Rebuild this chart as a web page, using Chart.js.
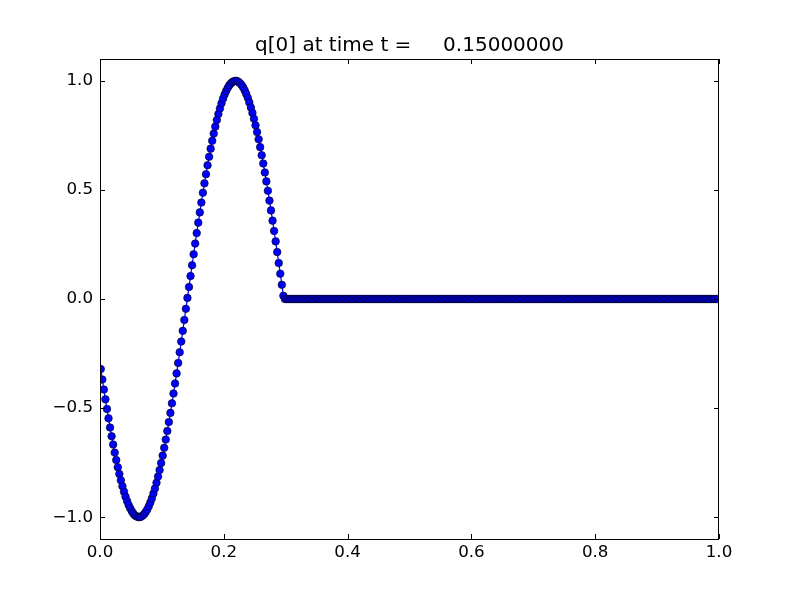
<!DOCTYPE html>
<html>
<head>
<meta charset="utf-8">
<script src="https://cdn.jsdelivr.net/npm/chart.js@4/dist/chart.umd.min.js"></script>
<style>
  html, body { margin: 0; padding: 0; background: #fff; }
  canvas { display: block; }
</style>
</head>
<body>
<canvas id="qPlot" width="800" height="600"></canvas>
<script>
const TITLE = 'q[0] at time t =     0.15000000';
const X_TICKS = [0, 0.2, 0.4, 0.6, 0.8, 1.0];
const Y_TICKS = [-1.0, -0.5, 0.0, 0.5, 1.0];

// solution sampled at the centres of 400 equal cells on [0, 1]
const CELL_COUNT = 400;

// q: the wave over 0 < x < 0.3 ...
const qWave = [
  -0.321, -0.369, -0.415, -0.460, -0.504, -0.547, -0.589, -0.629, -0.667, -0.704,
  -0.738, -0.771, -0.802, -0.831, -0.858, -0.883, -0.906, -0.926, -0.944, -0.959,
  -0.972, -0.983, -0.991, -0.996, -0.999, -1.000, -0.998, -0.993, -0.986, -0.977,
  -0.965, -0.950, -0.933, -0.914, -0.892, -0.869, -0.842, -0.814, -0.784, -0.752,
  -0.718, -0.682, -0.644, -0.605, -0.564, -0.522, -0.478, -0.433, -0.387, -0.341,
  -0.293, -0.244, -0.195, -0.146, -0.096, -0.045,  0.005,  0.055,  0.105,  0.155,
   0.205,  0.254,  0.302,  0.350,  0.397,  0.442,  0.487,  0.530,  0.572,  0.613,
   0.652,  0.689,  0.725,  0.758,  0.790,  0.820,  0.848,  0.873,  0.897,  0.918,
   0.937,  0.953,  0.967,  0.979,  0.988,  0.994,  0.998,  1.000,  0.999,  0.995,
   0.989,  0.981,  0.970,  0.956,  0.940,  0.922,  0.901,  0.878,  0.853,  0.826,
   0.796,  0.765,  0.732,  0.696,  0.659,  0.621,  0.580,  0.539,  0.496,  0.451,
   0.406,  0.359,  0.312,  0.264,  0.215,  0.165,  0.116,  0.065,  0.015
];

// ... and the flat part out to x = 1
const qTail = [
  0,0,0,0,0,0,0,0,0,0, 0,0,0,0,0,0,0,0,0,0, 0,0,0,0,0,0,0,0,0,0, 0,0,0,0,0,0,0,0,0,0,
  0,0,0,0,0,0,0,0,0,0, 0,0,0,0,0,0,0,0,0,0, 0,0,0,0,0,0,0,0,0,0, 0,0,0,0,0,0,0,0,0,0,
  0,0,0,0,0,0,0,0,0,0, 0,0,0,0,0,0,0,0,0,0, 0,0,0,0,0,0,0,0,0,0, 0,0,0,0,0,0,0,0,0,0,
  0,0,0,0,0,0,0,0,0,0, 0,0,0,0,0,0,0,0,0,0, 0,0,0,0,0,0,0,0,0,0, 0,0,0,0,0,0,0,0,0,0,
  0,0,0,0,0,0,0,0,0,0, 0,0,0,0,0,0,0,0,0,0, 0,0,0,0,0,0,0,0,0,0, 0,0,0,0,0,0,0,0,0,0,
  0,0,0,0,0,0,0,0,0,0, 0,0,0,0,0,0,0,0,0,0, 0,0,0,0,0,0,0,0,0,0, 0,0,0,0,0,0,0,0,0,0,
  0,0,0,0,0,0,0,0,0,0, 0,0,0,0,0,0,0,0,0,0, 0,0,0,0,0,0,0,0,0,0, 0,0,0,0,0,0,0,0,0,0,
  0
];

const FONT = 'DejaVu Sans';
const TICK_LEN = 5;

const q = qWave.concat(qTail);
const points = q.map((v, i) => ({ x: (i + 0.5) / CELL_COUNT, y: v }));

// matplotlib-ish tick label: one decimal, real minus sign
function fmt(v) {
  return (+v).toFixed(1).replace('-', '\u2212');
}

// black frame with inward ticks on all four sides
const frameTicks = {
  id: 'frameTicks',
  afterDatasetsDraw(chart) {
    const { ctx, chartArea: a, scales: { x, y } } = chart;
    ctx.save();
    ctx.strokeStyle = '#000';
    ctx.lineWidth = 1;
    ctx.beginPath();
    X_TICKS.forEach(v => {
      const px = Math.round(x.getPixelForValue(v)) + 0.5;
      ctx.moveTo(px, a.bottom); ctx.lineTo(px, a.bottom - TICK_LEN);
      ctx.moveTo(px, a.top);    ctx.lineTo(px, a.top + TICK_LEN);
    });
    Y_TICKS.forEach(v => {
      const py = Math.round(y.getPixelForValue(v)) + 0.5;
      ctx.moveTo(a.left, py);  ctx.lineTo(a.left + TICK_LEN, py);
      ctx.moveTo(a.right, py); ctx.lineTo(a.right - TICK_LEN, py);
    });
    ctx.stroke();
    ctx.strokeRect(Math.round(a.left) + 0.5, Math.round(a.top) + 0.5,
                   Math.round(a.width) - 1, Math.round(a.height));
    ctx.restore();
  }
};

new Chart(document.getElementById('qPlot'), {
  type: 'line',
  data: {
    datasets: [{
      data: points,
      borderColor: '#0000ff',
      borderWidth: 1.2,
      pointRadius: 3.8,
      pointBackgroundColor: '#0000ff',
      pointBorderColor: '#000',
      pointBorderWidth: 0.6,
      tension: 0,
      clip: 0,
    }]
  },
  options: {
    responsive: false,
    animation: false,
    devicePixelRatio: 1,
    layout: { padding: { left: 0, right: 81, top: 0, bottom: 0 } },
    plugins: {
      legend: { display: false },
      tooltip: { enabled: false },
      title: {
        display: true,
        text: TITLE,
        fullSize: false,
        color: '#000',
        font: { family: FONT, size: 20, weight: 'normal' },
        padding: { top: 34, bottom: 1 },
      },
    },
    scales: {
      x: {
        type: 'linear',
        min: 0,
        max: 1,
        afterBuildTicks: s => { s.ticks = X_TICKS.map(v => ({ value: v })); },
        afterFit: s => { s.height = 61; },
        grid: { display: false, drawTicks: false },
        border: { display: false },
        ticks: {
          callback: fmt,
          color: '#000',
          font: { family: FONT, size: 16.7 },
          padding: 4,
          maxRotation: 0,
          autoSkip: false,
        },
      },
      y: {
        type: 'linear',
        min: -1.1,
        max: 1.1,
        afterBuildTicks: s => { s.ticks = Y_TICKS.map(v => ({ value: v })); },
        afterFit: s => { s.width = 100; },
        grid: { display: false, drawTicks: false },
        border: { display: false },
        ticks: {
          callback: fmt,
          color: '#000',
          font: { family: FONT, size: 16.7 },
          padding: 7,
          autoSkip: false,
        },
      },
    },
  },
  plugins: [frameTicks],
});
</script>
</body>
</html>
